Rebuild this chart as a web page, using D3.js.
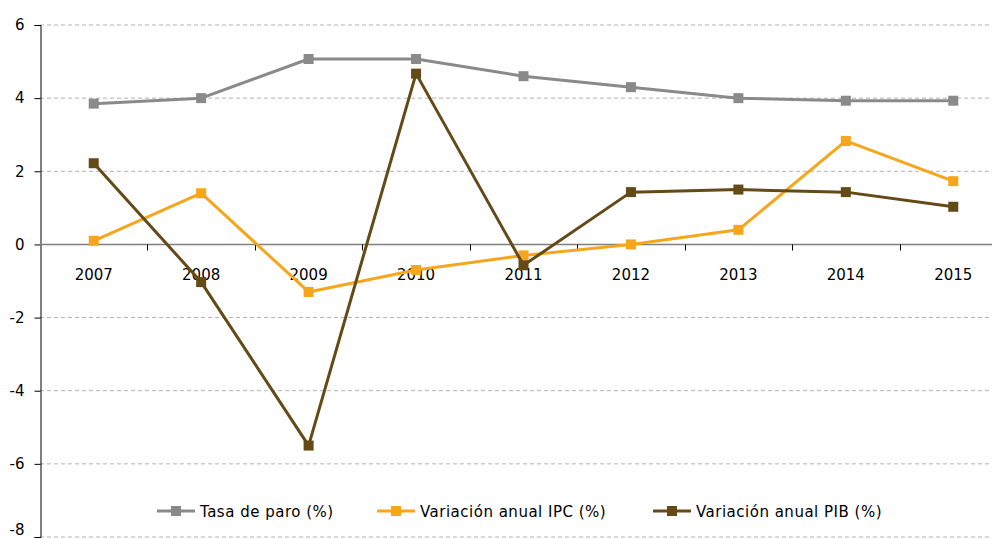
<!DOCTYPE html>
<html>
<head>
<meta charset="utf-8">
<script src="https://cdn.jsdelivr.net/npm/d3@7"></script>
<style>
  body { margin: 0; background: #fff; }
  text { font-family: "DejaVu Sans", Verdana, sans-serif; }
</style>
</head>
<body>
<svg id="chart" width="992" height="539"></svg>
<script>
const years = ["2007", "2008", "2009", "2010", "2011", "2012", "2013", "2014", "2015"];
const paro = [3.85, 4.0, 5.07, 5.07, 4.6, 4.3, 4.0, 3.93, 3.93];
const ipc = [0.1, 1.4, -1.3, -0.7, -0.3, 0.0, 0.4, 2.83, 1.73];
const pib = [2.22, -1.03, -5.5, 4.67, -0.57, 1.43, 1.5, 1.43, 1.03];
const yTicks = [6, 4, 2, 0, -2, -4, -6, -8];

const series = [
  { name: "Tasa de paro (%)", values: paro, color: "#8a8a8a" },
  { name: "Variación anual IPC (%)", values: ipc, color: "#f7a61c" },
  { name: "Variación anual PIB (%)", values: pib, color: "#634a16" }
];

const svg = d3.select("#chart");
const x = d3.scaleBand().domain(years).range([40, 1007]);
const y = d3.scaleLinear().domain([-8, 6]).range([537, 25]);

// grid lines
svg.append("g").selectAll("line")
  .data(yTicks.filter(d => d !== 0))
  .join("line")
  .attr("x1", 40).attr("x2", 1007)
  .attr("y1", d => y(d)).attr("y2", d => y(d))
  .attr("stroke", "#b3b3b3")
  .attr("stroke-dasharray", "4,3")
  .attr("stroke-width", 1);

// y axis
const yAxis = svg.append("g")
  .attr("transform", "translate(40.5,0)")
  .call(d3.axisLeft(y).tickValues(yTicks).tickSize(6).tickPadding(10).tickFormat(d => String(d)));
yAxis.select(".domain").attr("stroke", "#000");
yAxis.selectAll(".tick line").attr("stroke", "#000");
yAxis.selectAll("text").attr("font-size", 15).attr("fill", "#000")
  .attr("font-family", "\"DejaVu Sans\", sans-serif");
// keep the bottom label inside the picture
yAxis.selectAll(".tick text").filter(d => d === -8).attr("dy", "-0.14em");

// x axis on zero line
const xAxis = svg.append("g")
  .attr("transform", `translate(0,${Math.round(y(0)) + 0.5})`);
xAxis.append("line")
  .attr("x1", 40).attr("x2", 1007)
  .attr("stroke", "#7f7f7f").attr("stroke-width", 1.3);
xAxis.selectAll(".sep")
  .data(years.slice(1))
  .join("line")
  .attr("class", "sep")
  .attr("x1", d => Math.round(x(d)) + 0.5).attr("x2", d => Math.round(x(d)) + 0.5)
  .attr("y1", 0).attr("y2", 6)
  .attr("stroke", "#000");
xAxis.selectAll("text")
  .data(years)
  .join("text")
  .attr("x", d => x(d) + x.bandwidth() / 2)
  .attr("y", 35)
  .attr("text-anchor", "middle")
  .attr("font-size", 15)
  .attr("fill", "#000")
  .text(d => d);

const line = d3.line()
  .x((d, i) => x(years[i]) + x.bandwidth() / 2)
  .y(d => y(d));

series.forEach(s => {
  svg.append("path")
    .datum(s.values)
    .attr("fill", "none")
    .attr("stroke", s.color)
    .attr("stroke-width", 3)
    .attr("stroke-linejoin", "round")
    .attr("d", line);
  svg.append("g").selectAll("rect")
    .data(s.values)
    .join("rect")
    .attr("x", (d, i) => x(years[i]) + x.bandwidth() / 2 - 5)
    .attr("y", d => y(d) - 5)
    .attr("width", 10).attr("height", 10)
    .attr("fill", s.color);
});

// legend
const legendX = [157, 377, 653];
const legend = svg.append("g");
series.forEach((s, i) => {
  const g = legend.append("g").attr("transform", `translate(${legendX[i]},511)`);
  g.append("line").attr("x1", 0).attr("x2", 38).attr("y1", 0).attr("y2", 0)
    .attr("stroke", s.color).attr("stroke-width", 3);
  g.append("rect").attr("x", 14).attr("y", -5).attr("width", 10).attr("height", 10)
    .attr("fill", s.color);
  g.append("text").attr("x", 43).attr("y", 5.5)
    .attr("font-size", 15).attr("letter-spacing", 0.5).attr("fill", "#000")
    .text(s.name);
});
</script>
</body>
</html>
